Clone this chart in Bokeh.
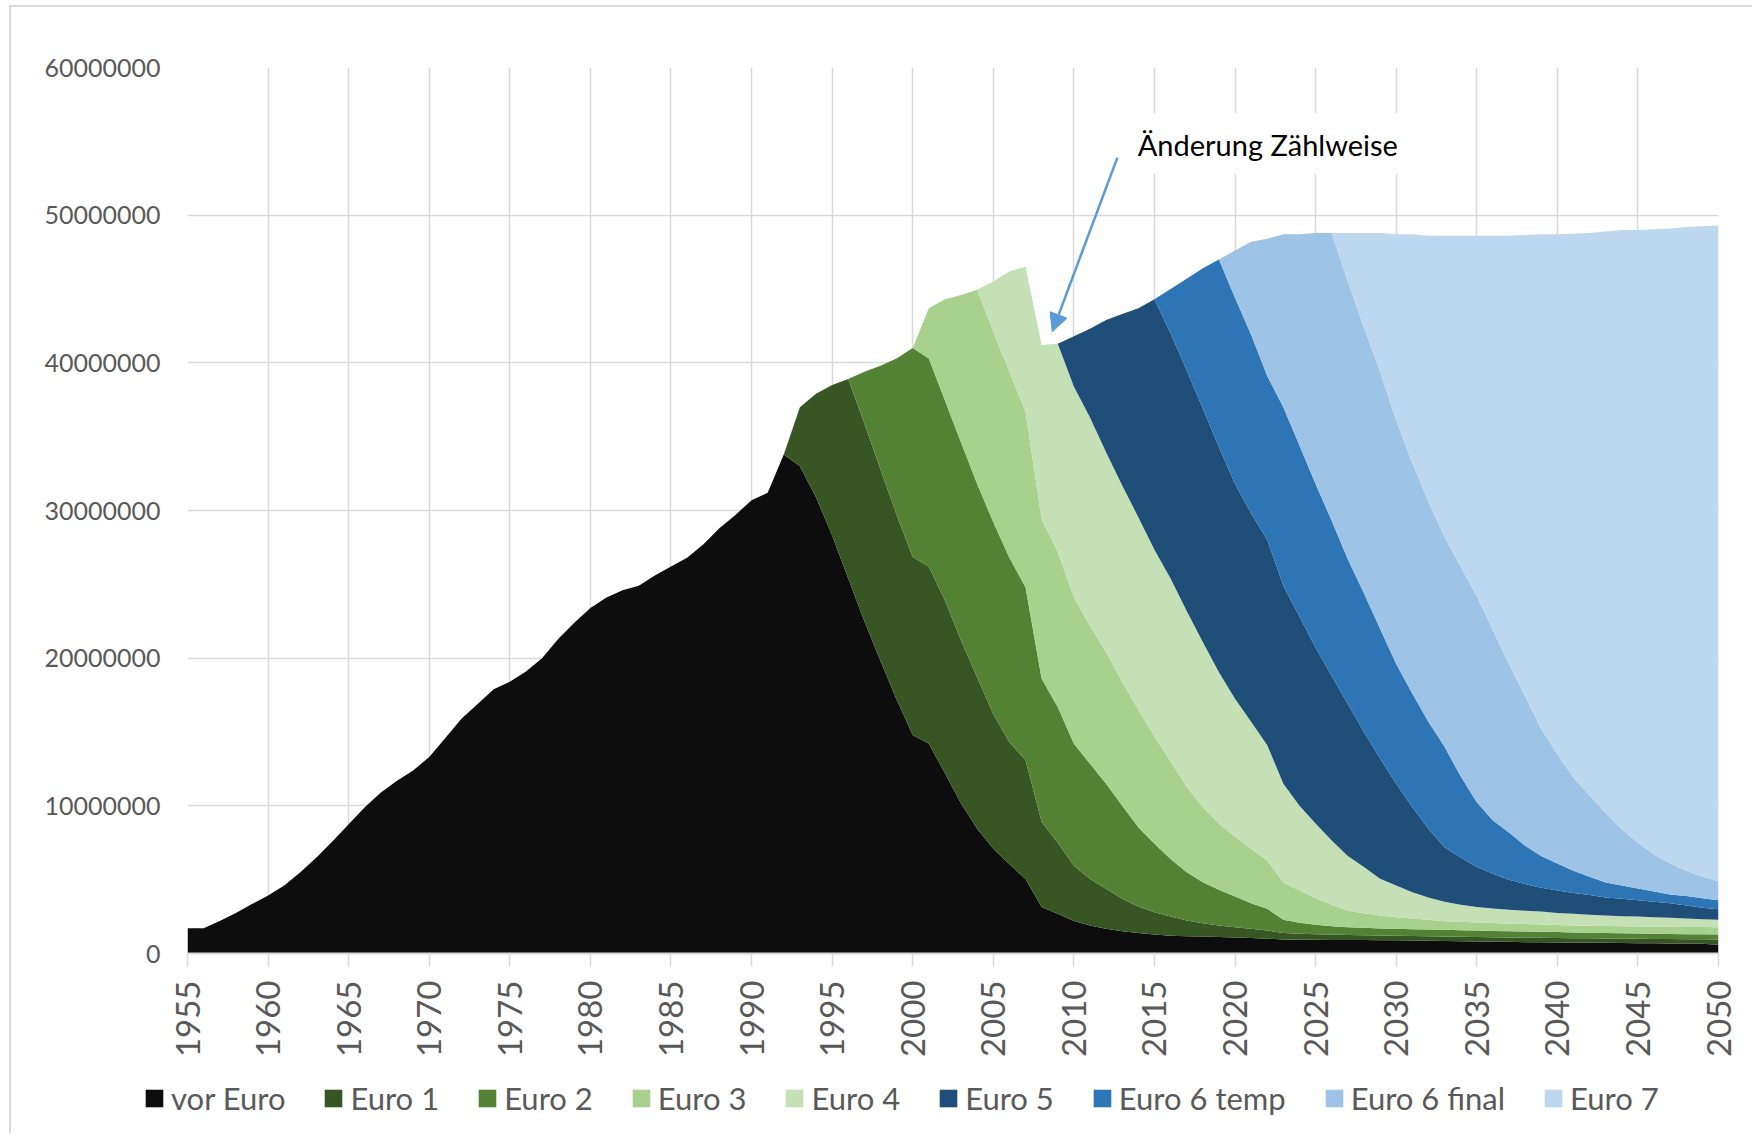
import numpy as np
from bokeh.plotting import figure
from bokeh.layouts import column
from bokeh.models import (ColumnDataSource, FixedTicker, Legend, LegendItem, Label,
                          BoxAnnotation, Arrow, NormalHead, Range1d)
from bokeh.embed import file_html
from bokeh.resources import INLINE

# ---------------- data (values in millions of vehicles) ----------------
years = list(range(1955, 2051))

vor_euro = [
    1.71, 1.71, 2.2, 2.75, 3.35,      # 1955-1959
    3.93, 4.6, 5.5, 6.5, 7.6,         # 1960-1964
    8.75, 9.9, 10.9, 11.7, 12.4,      # 1965-1969
    13.3, 14.6, 15.9, 16.9, 17.9,     # 1970-1974
    18.4, 19.1, 20.0, 21.3, 22.4,     # 1975-1979
    23.4, 24.1, 24.6, 24.9, 25.6,     # 1980-1984
    26.2, 26.8, 27.7, 28.8, 29.7,     # 1985-1989
    30.7, 31.2, 33.8, 33.0, 30.9,     # 1990-1994
    28.3, 25.4, 22.5, 19.8, 17.2,     # 1995-1999
    14.8, 14.2, 12.2, 10.15, 8.45,    # 2000-2004
    7.1, 6.05, 5.05, 3.15, 2.7,       # 2005-2009
    2.2, 1.9, 1.67, 1.51, 1.38,       # 2010-2014
    1.29, 1.2, 1.17, 1.15, 1.12,      # 2015-2019
    1.08, 1.05, 1.0, 0.95, 0.93,      # 2020-2024
    0.93, 0.92, 0.92, 0.91, 0.9,      # 2025-2029
    0.89, 0.88, 0.87, 0.85, 0.83,     # 2030-2034
    0.82, 0.8, 0.79, 0.77, 0.76,      # 2035-2039
    0.75, 0.74, 0.73, 0.72, 0.71,     # 2040-2044
    0.7, 0.69, 0.68, 0.67, 0.66,      # 2045-2049
    0.6]                              # 2050

euro1 = [
    0, 0, 0, 0, 0,  0, 0, 0, 0, 0,  0, 0, 0, 0, 0,  0, 0, 0, 0, 0,
    0, 0, 0, 0, 0,  0, 0, 0, 0, 0,  0, 0, 0, 0, 0,  # 1955-1989
    0, 0, 0, 4.0, 7.0,                # 1990-1994
    10.2, 13.5, 13.4, 13.0, 12.5,     # 1995-1999
    12.05, 12.0, 11.7, 11.05, 10.25,  # 2000-2004
    9.1, 8.25, 8.05, 5.75, 4.8,       # 2005-2009
    3.75, 3.15, 2.71, 2.19, 1.8,      # 2010-2014
    1.51, 1.3, 1.07, 0.9, 0.78,       # 2015-2019
    0.7, 0.62, 0.56, 0.43, 0.4,       # 2020-2024
    0.37, 0.36, 0.34, 0.33, 0.32,     # 2025-2029
    0.31, 0.31, 0.3, 0.3, 0.31,       # 2030-2034
    0.3, 0.3, 0.3, 0.3, 0.3,          # 2035-2039
    0.3, 0.3, 0.3, 0.3, 0.3,          # 2040-2044
    0.3, 0.3, 0.3, 0.3, 0.3,          # 2045-2049
    0.35]                             # 2050

euro2 = [
    0, 0, 0, 0, 0,  0, 0, 0, 0, 0,  0, 0, 0, 0, 0,  0, 0, 0, 0, 0,
    0, 0, 0, 0, 0,  0, 0, 0, 0, 0,  0, 0, 0, 0, 0,  0, 0, 0, 0, 0,  # 1955-1994
    0, 0, 3.5, 7.0, 10.6,             # 1995-1999
    14.15, 14.1, 13.55, 13.4, 13.1,   # 2000-2004
    13.0, 12.5, 11.7, 9.7, 9.2,       # 2005-2009
    8.25, 7.8, 7.12, 6.3, 5.37,       # 2010-2014
    4.63, 3.9, 3.26, 2.78, 2.41,      # 2015-2019
    2.08, 1.73, 1.47, 0.9, 0.75,      # 2020-2024
    0.64, 0.57, 0.52, 0.5, 0.47,      # 2025-2029
    0.47, 0.46, 0.46, 0.45, 0.44,     # 2030-2034
    0.44, 0.43, 0.42, 0.42, 0.41,     # 2035-2039
    0.4, 0.39, 0.38, 0.37, 0.36,      # 2040-2044
    0.35, 0.35, 0.34, 0.34, 0.34,     # 2045-2049
    0.34]                             # 2050

euro3 = [
    0, 0, 0, 0, 0,  0, 0, 0, 0, 0,  0, 0, 0, 0, 0,  0, 0, 0, 0, 0,
    0, 0, 0, 0, 0,  0, 0, 0, 0, 0,  0, 0, 0, 0, 0,  0, 0, 0, 0, 0,
    0, 0, 0, 0, 0,                    # 1955-1999
    0, 3.4, 6.85, 10.0, 13.15,        # 2000-2004
    12.9, 12.6, 11.9, 10.8, 10.5,     # 2005-2009
    9.9, 9.35, 8.9, 8.4, 7.95,        # 2010-2014
    7.27, 6.6, 5.8, 5.07, 4.49,       # 2015-2019
    4.04, 3.7, 3.27, 2.52, 2.19,      # 2020-2024
    1.81, 1.45, 1.12, 0.99, 0.88,     # 2025-2029
    0.79, 0.72, 0.65, 0.59, 0.57,     # 2030-2034
    0.54, 0.53, 0.51, 0.5, 0.49,      # 2035-2039
    0.48, 0.47, 0.47, 0.47, 0.47,     # 2040-2044
    0.48, 0.48, 0.49, 0.49, 0.49,     # 2045-2049
    0.49]                             # 2050

euro4 = [
    0, 0, 0, 0, 0,  0, 0, 0, 0, 0,  0, 0, 0, 0, 0,  0, 0, 0, 0, 0,
    0, 0, 0, 0, 0,  0, 0, 0, 0, 0,  0, 0, 0, 0, 0,  0, 0, 0, 0, 0,
    0, 0, 0, 0, 0,                    # 1955-1999
    0, 0, 0, 0, 0,                    # 2000-2004
    3.4, 6.8, 9.8, 11.8, 14.1,        # 2005-2009
    14.3, 14.1, 13.55, 13.3, 13.05,   # 2010-2014
    12.65, 12.4, 11.9, 11.2, 10.25,   # 2015-2019
    9.35, 8.6, 7.8, 6.7, 5.73,        # 2020-2024
    5.05, 4.35, 3.7, 3.12, 2.49,      # 2025-2029
    2.14, 1.78, 1.52, 1.31, 1.15,     # 2030-2034
    1.05, 0.99, 0.94, 0.91, 0.88,     # 2035-2039
    0.82, 0.79, 0.74, 0.71, 0.69,     # 2040-2044
    0.67, 0.64, 0.61, 0.57, 0.53,     # 2045-2049
    0.5]                              # 2050

euro5 = [
    0, 0, 0, 0, 0,  0, 0, 0, 0, 0,  0, 0, 0, 0, 0,  0, 0, 0, 0, 0,
    0, 0, 0, 0, 0,  0, 0, 0, 0, 0,  0, 0, 0, 0, 0,  0, 0, 0, 0, 0,
    0, 0, 0, 0, 0,  0, 0, 0, 0, 0,  0, 0, 0, 0, 0,  # 1955-2009
    3.4, 6.0, 8.95, 11.6, 14.15,      # 2010-2014
    16.95, 16.6, 16.3, 15.8, 15.25,   # 2015-2019
    14.55, 14.1, 13.9, 13.4, 12.8,    # 2020-2024
    11.9, 11.15, 10.3, 9.15, 8.14,    # 2025-2029
    6.9, 5.75, 4.65, 3.7, 3.2,        # 2030-2034
    2.7, 2.35, 2.04, 1.8, 1.61,       # 2035-2039
    1.52, 1.41, 1.35, 1.23, 1.17,     # 2040-2044
    1.1, 1.04, 0.98, 0.88, 0.78,      # 2045-2049
    0.72]                             # 2050

euro6_temp = [
    0, 0, 0, 0, 0,  0, 0, 0, 0, 0,  0, 0, 0, 0, 0,  0, 0, 0, 0, 0,
    0, 0, 0, 0, 0,  0, 0, 0, 0, 0,  0, 0, 0, 0, 0,  0, 0, 0, 0, 0,
    0, 0, 0, 0, 0,  0, 0, 0, 0, 0,  0, 0, 0, 0, 0,
    0, 0, 0, 0, 0,                    # 1955-2014
    0, 3.0, 6.2, 9.5, 12.7,           # 2015-2019
    12.6, 12.1, 11.1, 12.1, 11.6,     # 2020-2024
    11.1, 10.5, 9.8, 9.4, 8.8,        # 2025-2029
    8.1, 7.7, 7.25, 6.8, 5.5,         # 2030-2034
    4.4, 3.6, 3.2, 2.6, 2.15,         # 2035-2039
    1.83, 1.5, 1.23, 1.0, 0.9,        # 2040-2044
    0.8, 0.7, 0.6, 0.65, 0.65,        # 2045-2049
    0.6]                              # 2050

euro6_final = [
    0, 0, 0, 0, 0,  0, 0, 0, 0, 0,  0, 0, 0, 0, 0,  0, 0, 0, 0, 0,
    0, 0, 0, 0, 0,  0, 0, 0, 0, 0,  0, 0, 0, 0, 0,  0, 0, 0, 0, 0,
    0, 0, 0, 0, 0,  0, 0, 0, 0, 0,  0, 0, 0, 0, 0,
    0, 0, 0, 0, 0,  0, 0, 0, 0, 0,    # 1955-2019
    3.2, 6.3, 9.3, 11.7, 14.3,        # 2020-2024
    17.0, 19.5, 18.8, 18.0, 17.4,     # 2025-2029
    16.5, 15.6, 14.9, 14.2, 14.2,     # 2030-2034
    13.95, 12.9, 11.4, 10.1, 8.6,     # 2035-2039
    7.4, 6.3, 5.5, 4.7, 3.8,          # 2040-2044
    3.1, 2.5, 2.1, 1.7, 1.45,         # 2045-2049
    1.3]                              # 2050

euro7 = [
    0, 0, 0, 0, 0,  0, 0, 0, 0, 0,  0, 0, 0, 0, 0,  0, 0, 0, 0, 0,
    0, 0, 0, 0, 0,  0, 0, 0, 0, 0,  0, 0, 0, 0, 0,  0, 0, 0, 0, 0,
    0, 0, 0, 0, 0,  0, 0, 0, 0, 0,  0, 0, 0, 0, 0,
    0, 0, 0, 0, 0,  0, 0, 0, 0, 0,  0, 0, 0, 0, 0,  # 1955-2024
    0, 0, 3.3, 6.4, 9.4,              # 2025-2029
    12.6, 15.5, 18.0, 20.4, 22.4,     # 2030-2034
    24.4, 26.7, 29.0, 31.25, 33.5,    # 2035-2039
    35.2, 36.85, 38.1, 39.4, 40.6,    # 2040-2044
    41.5, 42.35, 43.0, 43.6, 44.05,   # 2045-2049
    44.4]                             # 2050

series_names = ["vor Euro", "Euro 1", "Euro 2", "Euro 3", "Euro 4",
                "Euro 5", "Euro 6 temp", "Euro 6 final", "Euro 7"]
series_values = [vor_euro, euro1, euro2, euro3, euro4,
                 euro5, euro6_temp, euro6_final, euro7]
colors = ["#0d0d0d", "#375623", "#548235", "#a9d18e", "#c5e0b4",
          "#1f4e79", "#2e75b6", "#9dc3e6", "#bdd7ee"]

x_ticks = list(range(1955, 2051, 5))
y_ticks = [0, 10000000, 20000000, 30000000, 40000000, 50000000, 60000000]
y_tick_labels = ["0", "10000000", "20000000", "30000000", "40000000",
                 "50000000", "60000000"]

annotation_text = "Änderung Zählweise"

MIO = 1000000
keys = ["s%d" % i for i in range(len(series_names))]
data = {"year": years}
for k, vals in zip(keys, series_values):
    data[k] = [v * MIO for v in vals]
source = ColumnDataSource(data)

# ---------------- main figure ----------------
W = 1741
p = figure(width=W, height=1056,
           min_border_left=176, min_border_top=60, min_border_right=34,
           min_border_bottom=110,
           x_range=Range1d(1955, 2050), y_range=Range1d(0, 60000000),
           output_backend="svg", toolbar_location=None,
           background_fill_color="white", border_fill_color="white")
p.outline_line_color = None

renderers = p.varea_stack(stackers=keys, x="year", color=colors, source=source)

# grid
p.xgrid.ticker = FixedTicker(ticks=x_ticks)
p.ygrid.ticker = FixedTicker(ticks=y_ticks)
for g in (p.xgrid, p.ygrid):
    g.grid_line_color = "#d9d9d9"
    g.grid_line_width = 1.5

# x axis
p.xaxis.ticker = FixedTicker(ticks=x_ticks)
p.xaxis.major_label_orientation = np.pi / 2
p.xaxis.axis_line_color = "#d9d9d9"
p.xaxis.axis_line_width = 2
p.xaxis.major_tick_line_color = "#d9d9d9"
p.xaxis.major_tick_line_width = 1.5
p.xaxis.major_tick_out = 13
p.xaxis.major_tick_in = 0
p.xaxis.minor_tick_line_color = None
p.xaxis.major_label_standoff = 14
p.xaxis.major_label_text_font = "Lato"
p.xaxis.major_label_text_font_size = "33px"
p.xaxis.major_label_text_color = "#595959"

# y axis
p.yaxis.ticker = FixedTicker(ticks=y_ticks)
p.yaxis.major_label_overrides = {t: lab for t, lab in zip(y_ticks, y_tick_labels)}
p.yaxis.axis_line_color = None
p.yaxis.major_tick_line_color = None
p.yaxis.minor_tick_line_color = None
p.yaxis.major_tick_out = 0
p.yaxis.major_label_standoff = 27
p.yaxis.major_label_text_font = "Lato"
p.yaxis.major_label_text_font_size = "25px"
p.yaxis.major_label_text_color = "#595959"

# annotation: white text box, text and arrow
box = BoxAnnotation(left=2012.8, right=2030.9, bottom=52.8e6, top=56.9e6,
                    fill_color="white", fill_alpha=1.0, line_color=None)
p.add_layout(box)
p.add_layout(Label(x=2013.96, y=54.8e6, text=annotation_text, text_align="left",
                   text_baseline="middle", text_font="Lato", text_font_size="29px",
                   text_color="black"))
p.add_layout(Arrow(end=NormalHead(size=18, fill_color="#5b9bd5", line_color="#5b9bd5"),
                   x_start=2012.7, y_start=53.9e6, x_end=2008.66, y_end=42.1e6,
                   line_color="#5b9bd5", line_width=2.5))

# ---------------- legend strip ----------------
# same stacked series, but the strip's ranges keep the areas out of view,
# so only the legend (with the series colours) shows
p2 = figure(width=W, height=70, min_border=0,
            x_axis_location=None, y_axis_location=None,
            x_range=Range1d(0, 1), y_range=Range1d(0, 1),
            output_backend="svg", toolbar_location=None,
            background_fill_color="white", border_fill_color="white")
p2.frame_align = False
p2.outline_line_color = None
p2.grid.visible = False
legend_renderers = p2.varea_stack(stackers=keys, x="year", color=colors, source=source)
legend = Legend(
    items=[LegendItem(label=n, renderers=[r]) for n, r in zip(series_names, legend_renderers)],
    orientation="horizontal", location=(132, 16),
    label_text_font="Lato", label_text_font_size="31px", label_text_color="#595959",
    glyph_width=22, glyph_height=22, label_standoff=6, spacing=37,
    padding=0, margin=0, border_line_color=None, background_fill_alpha=0)
p2.add_layout(legend, "center")

layout = column(p, p2, spacing=0,
                styles={"border-left": "2px solid #d9d9d9", "border-top": "2px solid #d9d9d9",
                        "margin-left": "9px", "margin-top": "5px"})

open("out.html", "w").write(file_html(layout, INLINE))
